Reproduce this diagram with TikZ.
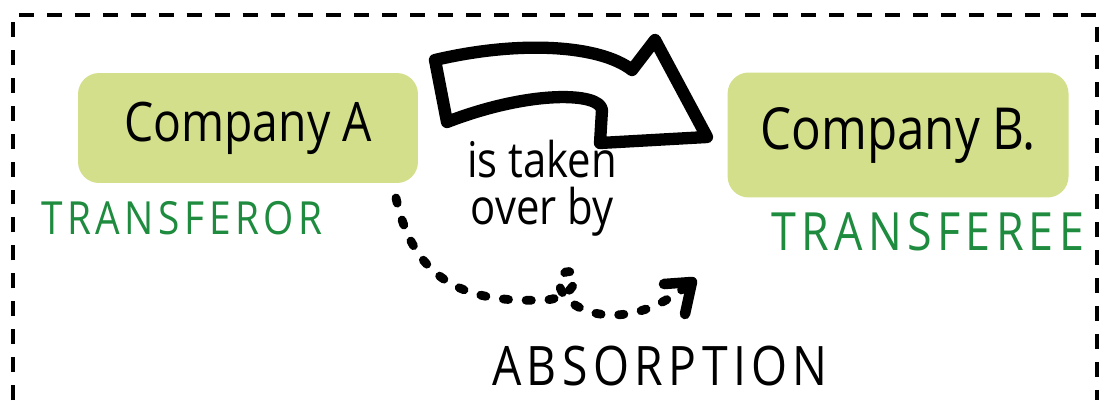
\documentclass[tikz,border=0pt]{standalone}
\usepackage{fontspec}
\setmainfont{Open Sans}
\newfontfamily\handfont[FakeStretch=0.85]{Open Sans}
\newfontfamily\capsfont[FakeStretch=0.85,LetterSpace=10]{Open Sans}
\usetikzlibrary{positioning}
\definecolor{boxgreen}{HTML}{D4DF8B}
\definecolor{labelgreen}{HTML}{1E8B3E}

\begin{document}
\begin{tikzpicture}[x=0.02cm,y=-0.02cm]
	\tikzstyle{company}=[fill=boxgreen,rounded corners=12pt,minimum width=6.8cm,minimum height=2.2cm,font=\handfont\fontsize{31}{34}\selectfont]
	\tikzstyle{role}=[text=labelgreen,inner sep=0pt,font=\capsfont\fontsize{26}{30}\selectfont]
	\tikzstyle{hand}=[inner sep=0pt,align=center,font=\handfont\fontsize{28}{27}\selectfont]

	\useasboundingbox (0,0) rectangle (1108,400);
	\draw[line width=2.3pt,dash pattern=on 8.5pt off 7.4pt] (13,400) -- (13,15) -- (1097,15) -- (1097,400);

	\node (compA) [company] at (248,128) {Company A};
	\node (compB) [company,minimum width=6.82cm,minimum height=2.5cm,right=6.18cm of compA,yshift=-0.14cm,font=\handfont\fontsize{33}{36}\selectfont] {Company B.};
	\node (transferor) [role] at (182,218) {TRANSFEROR};
	\node (transferee) [role,font=\capsfont\fontsize{30}{34}\selectfont] at (928,232) {TRANSFEREE};
	\node (takeover) [hand] at (542,188) {is taken\\over by};
	\node (absorption) [hand,anchor=base,font=\capsfont\fontsize{31}{36}\selectfont] at (660,385) {ABSORPTION};

	% hollow arrow between the two companies
	\draw[line width=7pt,line join=round,fill=white]
		(435,60) .. controls (520,40) and (600,45) .. (632,70) -- (655,40) -- (707,137)
		-- (600,143) -- (602,110) .. controls (600,92) and (530,90) .. (447,122) -- cycle;

	% dotted path below
	\coordinate (dotstart) at (396,198);
	\coordinate (dotend) at (692,282);
	\coordinate (headA) at (664,284);
	\coordinate (headB) at (685,314);
	\draw[line width=5pt,line cap=round,dash pattern=on 3pt off 10pt]
		(dotstart) .. controls (415,285) and (470,303) .. (545,300)
		.. controls (578,298) and (582,268) .. (566,272)
		.. controls (548,278) and (565,316) .. (615,315)
		.. controls (645,314) and (670,300) .. (dotend);
	\draw[line width=6pt,line cap=round,line join=round] (headA) -- (dotend) -- (headB);

\end{tikzpicture}
\end{document}
